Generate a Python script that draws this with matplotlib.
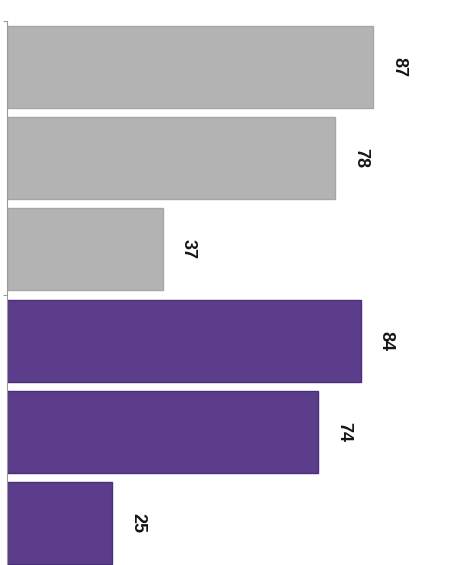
import matplotlib
matplotlib.use("Agg")
import matplotlib.pyplot as plt

# Bar values, top to bottom
values = [87, 78, 37, 84, 74, 25]
colors = ["#b3b3b3", "#b3b3b3", "#b3b3b3", "#5b3d8c", "#5b3d8c", "#5b3d8c"]
edge_colors = ["#a6a6a6", "#a6a6a6", "#a6a6a6", "#4a2f78", "#4a2f78", "#4a2f78"]
labels = [str(v) for v in values]

W, H, DPI = 451, 565, 100
fig = plt.figure(figsize=(W / DPI, H / DPI), dpi=DPI)
fig.patch.set_facecolor("white")
ax = fig.add_axes([7 / W, 0, (W - 7) / W, 1])

pos = list(range(len(values)))
ax.barh(pos, values, height=0.9, color=colors, edgecolor=edge_colors, linewidth=1.0)

for p, v, lab in zip(pos, values, labels):
    ax.annotate(lab, xy=(v, p), xytext=(18.5, 0), textcoords="offset points",
                ha="center", va="center", rotation=270,
                fontsize=13, fontweight="bold", family="Liberation Sans",
                color="#151515")

ax.set_xlim(0, 105.5)
ax.set_ylim(5.46, -0.735)

for s in ["top", "right", "bottom"]:
    ax.spines[s].set_visible(False)
ax.spines["left"].set_color("#9a9a9a")
ax.spines["left"].set_linewidth(0.8)
ax.spines["left"].set_bounds(-0.5, 5.46)
ax.set_xticks([])
ax.set_yticks([-0.5, 2.5])
ax.set_yticklabels([])
ax.tick_params(axis="y", length=3, width=0.8, color="#9a9a9a", direction="out")
ax.patch.set_alpha(0)

fig.savefig("out.png", dpi=DPI)
